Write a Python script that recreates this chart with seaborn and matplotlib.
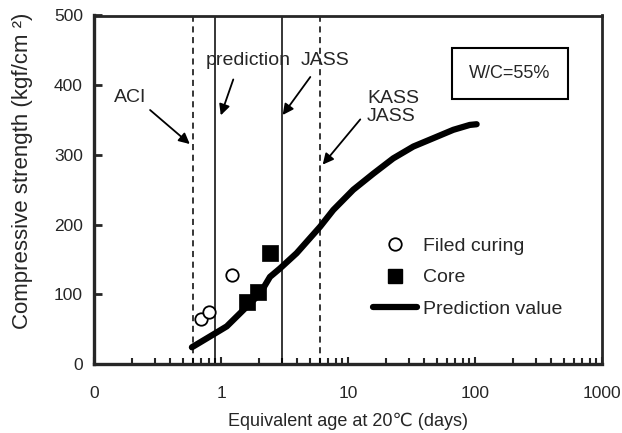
import numpy as np
import pandas as pd
import seaborn as sns
import matplotlib.pyplot as plt
from matplotlib.lines import Line2D

# Prediction curve (equivalent age in days, strength in kgf/cm2)
pred_age = [0.59, 0.9, 1.11, 1.59, 2.03, 2.43, 2.91, 3.94, 6.03, 7.66, 11.0,
            15.8, 22.7, 32.7, 47.0, 67.5, 91.0, 103.0]
pred_strength = [24, 44, 54, 82, 101, 125, 137, 159, 197, 221, 250,
                 273, 295, 312, 324, 336, 343, 344]

# Measured values
field_age = [0.70, 0.81, 1.23]
field_strength = [64, 74, 127]
core_age = [1.59, 1.97, 2.43]
core_strength = [89, 104, 159]

# Reference ages (days)
dashed_ages = [0.6, 6.0]   # ACI, KASS/JASS
solid_ages = [0.9, 3.0]    # prediction, JASS

x_ticks = [0.1, 1, 10, 100, 1000]
x_ticklabels = ["0", "1", "10", "100", "1000"]
y_ticks = [0, 100, 200, 300, 400, 500]

pred_df = pd.DataFrame({"age": pred_age, "strength": pred_strength})
field_df = pd.DataFrame({"age": field_age, "strength": field_strength})
core_df = pd.DataFrame({"age": core_age, "strength": core_strength})

sns.set_theme(style="ticks")
plt.rcParams['font.family'] = ['Liberation Sans', 'DejaVu Sans']
FS = 12.5      # tick labels
FA = 14        # annotations / legend

fig = plt.figure(figsize=(6.22, 4.33), dpi=100)
ax = fig.add_axes([94 / 622, (433 - 364) / 433, 508 / 622, 348.5 / 433])

ax.set_xscale("log")

for a in dashed_ages:
    ax.axvline(a, color="black", lw=1.1, ls=(0, (4, 3)), zorder=1)
for a in solid_ages:
    ax.axvline(a, color="black", lw=1.1, zorder=1)

sns.lineplot(data=pred_df, x="age", y="strength", ax=ax, color="black",
             lw=4.5, sort=True, zorder=3, solid_capstyle="round")
sns.scatterplot(data=field_df, x="age", y="strength", ax=ax, marker="o",
                s=80, facecolor="white", edgecolor="black", linewidth=1.3, zorder=4)
sns.scatterplot(data=core_df, x="age", y="strength", ax=ax, marker="s",
                s=130, color="black", edgecolor="black", linewidth=0.5, zorder=4)

ax.set_xlim(0.1, 1000)
ax.set_ylim(0, 500)
ax.set_xticks(x_ticks)
ax.set_xticklabels(x_ticklabels)
ax.set_yticks(y_ticks)

ax.set_xlabel("Equivalent age at 20\u2103 (days)", fontsize=13, labelpad=8)
ax.set_ylabel("Compressive strength (kgf/cm \u00b2)", fontsize=16)
ax.yaxis.set_label_coords(-0.120, 0.554)

ax.tick_params(axis="x", which="major", direction="in", length=5, width=1.5,
               labelsize=FS, pad=16)
ax.tick_params(axis="x", which="minor", direction="in", length=4, width=1.5)
ax.tick_params(axis="y", which="major", direction="in", length=6, width=2,
               labelsize=FS, pad=8)

for side in ["left", "bottom"]:
    ax.spines[side].set_linewidth(2.4)
for side in ["top", "right"]:
    ax.spines[side].set_linewidth(2.0)

# Annotations
arrow = dict(arrowstyle="-|>", color="black", lw=1.3, mutation_scale=16)
ax.text(0.192, 383, "ACI", fontsize=FA, ha="center", va="center")
ax.annotate("", xy=(0.59, 313), xytext=(0.266, 367), arrowprops=arrow)
ax.text(1.63, 436, "prediction", fontsize=FA, ha="center", va="center")
ax.annotate("", xy=(0.98, 353), xytext=(1.27, 412), arrowprops=arrow)
ax.text(6.59, 436, "JASS", fontsize=FA, ha="center", va="center")
ax.annotate("", xy=(2.97, 354), xytext=(5.2, 415), arrowprops=arrow)
ax.text(14.1, 368, "KASS\nJASS", fontsize=FA, ha="left", va="center",
        linespacing=1.1)
ax.annotate("", xy=(6.12, 283), xytext=(12.9, 354), arrowprops=arrow)

ax.text(0.819, 0.834, "W/C=55%", transform=ax.transAxes, fontsize=13,
        ha="center", va="center",
        bbox=dict(boxstyle="square,pad=0.95", facecolor="white",
                  edgecolor="black", lw=1.5))

handles = [
    Line2D([], [], ls="none", marker="o", markersize=9, markerfacecolor="white",
           markeredgecolor="black", markeredgewidth=1.3),
    Line2D([], [], ls="none", marker="s", markersize=10, color="black"),
    Line2D([], [], color="black", lw=4.5),
]
labels = ["Filed curing", "Core", "Prediction value"]
ax.legend(handles, labels, loc="upper left", bbox_to_anchor=(0.549, 0.363),
          frameon=False, fontsize=FA, handlelength=2.27, handletextpad=0.3,
          labelspacing=0.7, borderaxespad=0, borderpad=0)

fig.savefig("out.png", dpi=100)
